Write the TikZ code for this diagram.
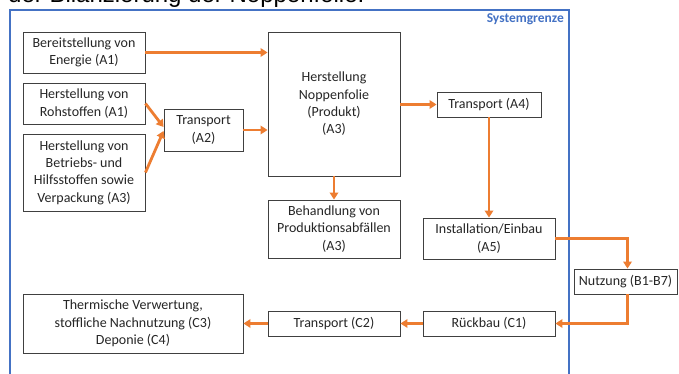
\documentclass[tikz,border=0pt]{standalone}
\usepackage{fontspec}
\setmainfont{Carlito}
\newfontfamily\titlefont{Liberation Sans}
\usetikzlibrary{arrows.meta}
\definecolor{sysblue}{HTML}{4472C4}
\definecolor{flow}{HTML}{ED7D31}
\definecolor{boxline}{HTML}{404040}
\begin{document}
\begin{tikzpicture}[x=1pt,y=-1pt,
  box/.style={draw=boxline,line width=0.9pt,inner sep=0pt,align=center,
    font=\fontsize{14}{17.4}\selectfont,text=black!85},
  flowarrow/.style={draw=flow,line width=2.8pt,
    -{Triangle[length=7pt,width=8.5pt]}},
]
\clip (0,0) rectangle (679,374);
\fill[white] (0,0) rectangle (679,374);
% cut-off title
\node[anchor=base west,inner sep=0pt,font=\titlefont\fontsize{24}{28}\selectfont] (title) at (8,2.5) {der Bilanzierung der Noppenfolie.};
% system boundary
\draw[sysblue,line width=2pt] (10,400) -- (10,10) -- (569,10) -- (569,400);
\node[anchor=base east,inner sep=0pt,text=sysblue,font=\bfseries\fontsize{13.5}{16}\selectfont] (sg) at (564,22.5) {Systemgrenze};
% boxes
\node[box,minimum width=122,minimum height=41] (bere) at (84,52.5) {Bereitstellung von\\Energie (A1)};
\node[box,minimum width=122,minimum height=41] (roh) at (84,103.5) {Herstellung von\\Rohstoffen (A1)};
\node[box,minimum width=122,minimum height=77] (betr) at (84,172.5) {Herstellung von\\Betriebs- und\\Hilfsstoffen sowie\\Verpackung (A3)};
\node[box,minimum width=79,minimum height=42] (tA2) at (203.5,130) {Transport\\(A2)};
\node[box,minimum width=132,minimum height=144] (nopp) at (334,104) {Herstellung\\Noppenfolie\\(Produkt)\\(A3)};
\node[box,minimum width=132,minimum height=58] (beh) at (334,229) {Behandlung von\\Produktionsabf\"allen\\(A3)};
\node[box,minimum width=104,minimum height=25] (tA4) at (489,104.5) {Transport (A4)};
\node[box,minimum width=132,minimum height=41] (inst) at (489,238.5) {Installation/Einbau\\(A5)};
\node[box,minimum width=103,minimum height=25] (nutz) at (625.5,281.5) {Nutzung (B1-B7)};
\node[box,minimum width=132,minimum height=25] (rueck) at (489,323.5) {R\"uckbau (C1)};
\node[box,minimum width=132,minimum height=25] (tC2) at (334,323.5) {Transport (C2)};
\node[box,minimum width=220,minimum height=59] (therm) at (133,323.5) {Thermische Verwertung,\\stoffliche Nachnutzung (C3)\\Deponie (C4)};
% connectors
\draw[flowarrow] (bere.east) -- (nopp.west |- bere.east);
\draw[flowarrow] (roh.east) -- ([yshift=3pt]tA2.west);
\draw[flowarrow] (betr.east) -- ([yshift=-1pt]tA2.west);
\draw[flowarrow] (tA2.east) -- (nopp.west |- tA2.east);
\draw[flowarrow] (nopp.east |- tA4.west) -- (tA4.west);
\draw[flowarrow] (nopp.south) -- (beh.north);
\draw[flowarrow] (tA4.south) -- (inst.north);
\draw[flowarrow] (inst.east) -| ([xshift=2pt]nutz.north);
\draw[flowarrow] ([xshift=2pt]nutz.south) |- (rueck.east);
\draw[flowarrow] (rueck.west) -- (tC2.east);
\draw[flowarrow] (tC2.west) -- (therm.east);
\end{tikzpicture}
\end{document}
